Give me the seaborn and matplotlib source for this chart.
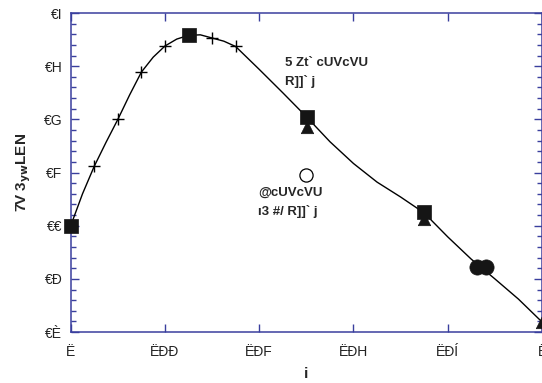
import matplotlib
matplotlib.use("Agg")
import matplotlib.pyplot as plt
from matplotlib.ticker import FixedLocator, AutoMinorLocator, NullLocator
import seaborn as sns
import pandas as pd

# --- data -------------------------------------------------------------
# smooth fitted curve
curve_x = [0.0, 0.125, 0.25, 0.375, 0.5, 0.625, 0.75, 0.875, 1.0, 1.125,
           1.25, 1.375, 1.5, 1.625, 1.75, 2.0, 2.25, 2.5, 2.75, 3.0, 3.25,
           3.5, 3.75, 4.0, 4.25, 4.5, 4.75, 5.0]
curve_y = [2.0, 2.6, 3.12, 3.57, 4.0, 4.46, 4.89, 5.17, 5.38, 5.51,
           5.58, 5.59, 5.53, 5.47, 5.37, 4.94, 4.5, 4.05, 3.58, 3.17, 2.82,
           2.54, 2.24, 1.79, 1.37, 1.0, 0.62, 0.19]

plus_x = [0.25, 0.5, 0.75, 1.0, 1.5, 1.75]
plus_y = [3.12, 4.0, 4.89, 5.38, 5.53, 5.38]

square_x = [0.0, 1.25, 2.51, 3.75]
square_y = [2.0, 5.58, 4.04, 2.26]

triangle_x = [2.51, 3.75, 5.0]
triangle_y = [3.86, 2.12, 0.19]

open_circle_x = [2.50]
open_circle_y = [2.95]

dot_x = [4.31, 4.41]
dot_y = [1.23, 1.23]

x_ticks = [0, 1, 2, 3, 4, 5]
x_labels = ["Ë", "ËÐÐ", "ËÐF", "ËÐH", "ËÐÍ", "Ë"]
y_ticks = [0, 1, 2, 3, 4, 5, 6]
y_labels = ["€È", "€Ð", "€€", "€F", "€G", "€H", "€I"]

x_title = "i"
y_title = r"7V 3$_{\mathbf{yw}}$LEN"
note_top = ["5 Zt` cUVcVU", "R]]` j"]
note_bottom = ["@cUVcVU", "ı3 #/ R]]` j"]

# --- style ------------------------------------------------------------
sns.set_style("ticks")
plt.rcParams["font.family"] = ["Liberation Sans", "DejaVu Sans"]
axis_blue = "#3a3f9e"

fig = plt.figure(figsize=(5.42, 3.83), dpi=100)
ax = fig.add_axes([0.1305, 0.133, 0.8695, 0.833])

curve = pd.DataFrame({"x": curve_x, "y": curve_y})
sns.lineplot(data=curve, x="x", y="y", ax=ax, color="black", lw=1.0,
             sort=False, zorder=2)

sns.scatterplot(x=plus_x, y=plus_y, ax=ax, marker="+", s=80,
                color="black", linewidth=1.0, zorder=3)
sns.scatterplot(x=square_x, y=square_y, ax=ax, marker="s", s=110,
                color="#151515", edgecolor="#151515", linewidth=0.5,
                zorder=4, clip_on=False)
sns.scatterplot(x=triangle_x, y=triangle_y, ax=ax, marker="^", s=80,
                color="#151515", edgecolor="#151515", linewidth=0.5,
                zorder=3, clip_on=False)
sns.scatterplot(x=open_circle_x, y=open_circle_y, ax=ax, marker="o", s=90,
                facecolor="white", edgecolor="black", linewidth=0.9,
                zorder=3)
sns.scatterplot(x=dot_x, y=dot_y, ax=ax, marker="o", s=120,
                color="#151515", edgecolor="#151515", linewidth=0.5,
                zorder=3)

ax.set_xlim(0, 5)
ax.set_ylim(0, 6)

ax.xaxis.set_major_locator(FixedLocator(x_ticks))
ax.set_xticklabels(x_labels)
ax.xaxis.set_minor_locator(NullLocator())
ax.yaxis.set_major_locator(FixedLocator(y_ticks))
ax.set_yticklabels(y_labels)
ax.yaxis.set_minor_locator(AutoMinorLocator(5))

for side in ["left", "right", "top", "bottom"]:
    ax.spines[side].set_visible(True)
    ax.spines[side].set_color(axis_blue)
    ax.spines[side].set_linewidth(1.1)

ax.tick_params(axis="both", which="both", direction="in", color=axis_blue,
               labelsize=10, labelcolor="#222222")
ax.tick_params(axis="y", which="major", length=6, width=1.0, left=True,
               right=True, pad=6)
ax.tick_params(axis="y", which="minor", length=3.5, width=1.0, left=True,
               right=True)
ax.tick_params(axis="x", which="major", length=6, width=1.0, bottom=True,
               top=True, pad=9)

ax.set_xlabel(x_title, fontsize=11, fontweight="bold", labelpad=6)
ax.set_ylabel(y_title, fontsize=11, fontweight="bold", labelpad=8)

ax.text(2.275, 5.06, note_top[0], fontsize=9.5, fontweight="bold",
        va="center", ha="left")
ax.text(2.275, 4.72, note_top[1], fontsize=9.5, fontweight="bold",
        va="center", ha="left")
ax.text(1.99, 2.61, note_bottom[0], fontsize=9.5, fontweight="bold",
        va="center", ha="left")
ax.text(1.99, 2.26, note_bottom[1], fontsize=9.5, fontweight="bold",
        va="center", ha="left")

fig.savefig("out.png", dpi=100)
